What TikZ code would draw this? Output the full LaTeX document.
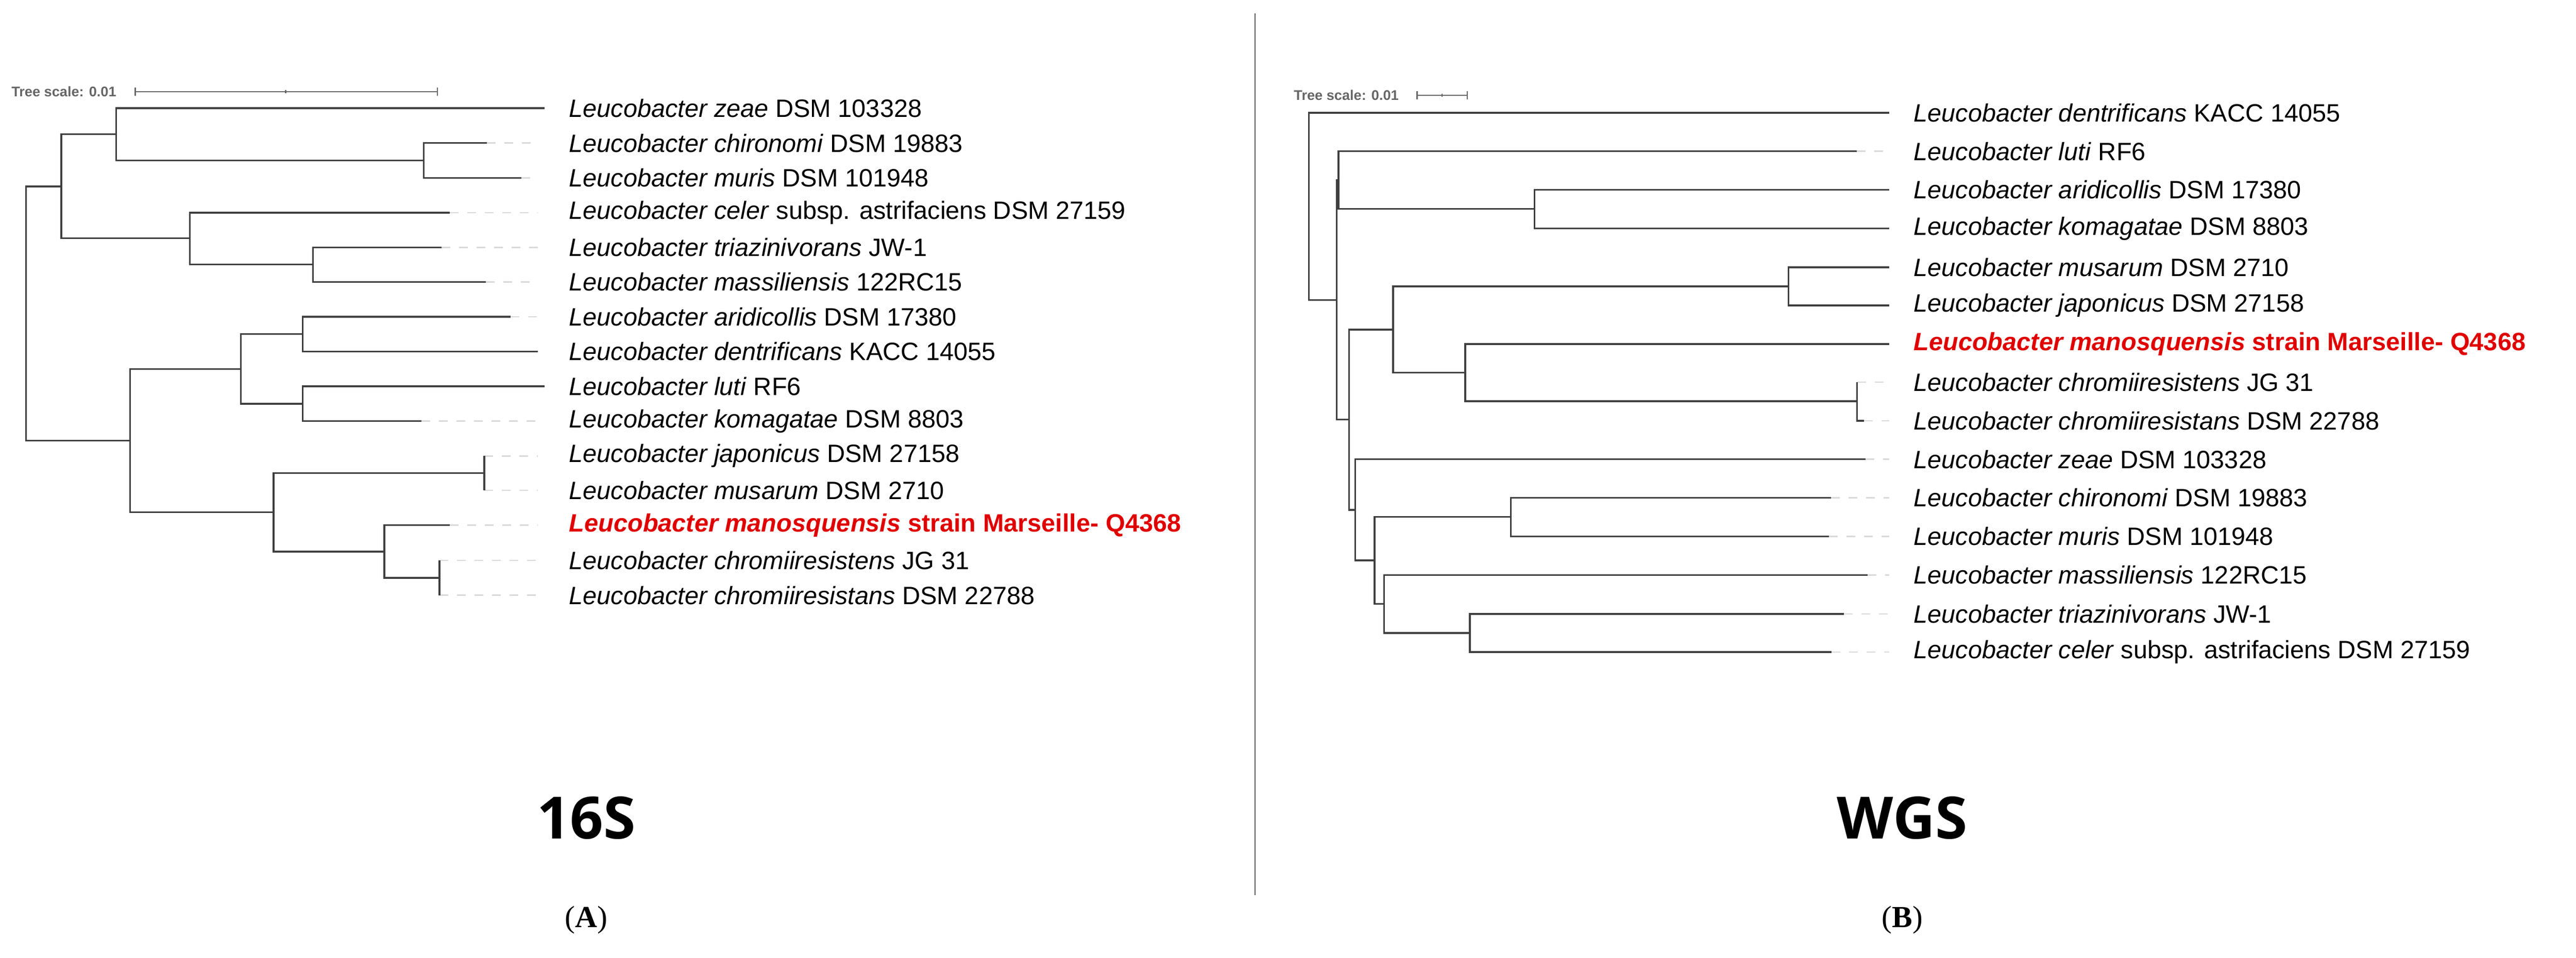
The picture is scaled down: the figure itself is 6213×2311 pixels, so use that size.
\documentclass[tikz,border=0pt]{standalone}
\usepackage{fontspec}
\setmainfont{Liberation Sans}
\newfontfamily\serifA{Liberation Serif}
\newfontfamily\opensans{Open Sans}
\begin{document}
\begin{tikzpicture}[x=0.01cm,y=-0.01cm]
\definecolor{tred}{HTML}{E00000}
\tikzset{br/.style={draw=black!75,line width=1.2pt},
 dsh/.style={draw=black!15,line width=0.9pt,dash pattern=on 6pt off 6pt},
 lbl/.style={anchor=west,inner sep=0pt,font=\fontsize{17.2}{20}\selectfont},
 redl/.style={lbl,text=tred,font=\fontsize{17.2}{20}\selectfont\bfseries},
 scl/.style={anchor=west,inner sep=0pt,text=black!60,font=\fontsize{9.6}{11}\selectfont\bfseries},
 big/.style={inner sep=0pt,font=\fontsize{40}{48}\selectfont\opensans\bfseries},
 sub/.style={inner sep=0pt,font=\fontsize{21}{25}\selectfont\serifA}}
\useasboundingbox (0,0) rectangle (6213,2311);
% divider
\draw[draw=black!65,line width=1pt] (3027,32) -- (3027,2160);
% ===== left tree =====
\node[scl] (sA) at (27,221) {Tree scale: 0.01};
\draw[draw=black!60,line width=0.9pt] (326,221) -- (1055,221) (326,211)--(326,231) (1055,211)--(1055,231) (689,217)--(689,225);
\foreach \n/\y/\t in {
 l1/261/{\textit{Leucobacter zeae} DSM 103328},
 l2/345/{\textit{Leucobacter chironomi} DSM 19883},
 l3/429/{\textit{Leucobacter muris} DSM 101948},
 l4/513/{\textit{Leucobacter celer} subsp. astrifaciens DSM 27159},
 l5/597/{\textit{Leucobacter triazinivorans} JW-1},
 l6/680/{\textit{Leucobacter massiliensis} 122RC15},
 l7/764/{\textit{Leucobacter aridicollis} DSM 17380},
 l8/848/{\textit{Leucobacter dentrificans} KACC 14055},
 l9/932/{\textit{Leucobacter luti} RF6},
 l10/1016/{\textit{Leucobacter komagatae} DSM 8803},
 l11/1100/{\textit{Leucobacter japonicus} DSM 27158},
 l12/1183/{\textit{Leucobacter musarum} DSM 2710},
 l14/1352/{\textit{Leucobacter chromiiresistens} JG 31},
 l15/1436/{\textit{Leucobacter chromiiresistans} DSM 22788}}
 {\node[lbl] (\n) at (1372,\y) {\t};}
\node[redl] (l13) at (1372,1267) {\textit{Leucobacter manosquensis} strain Marseille- Q4368};
% dashed extensions
\foreach \x/\y in {1174/345,1257/429,1085/513,1065/597,1172/680,1232/764,1017/1016,1168/1100,1168/1183,1085/1267,1060/1352,1060/1436}
 \draw[dsh] (\x,\y) -- (1297,\y);
% branches
\draw[br] (1174,345) -- (1022,345) -- (1022,429) -- (1257,429); % C
\draw[br] (1314,261) -- (280,261) -- (280,387) -- (1022,387); % B
\draw[br] (1065,597) -- (755,597) -- (755,680) -- (1172,680); % E
\draw[br] (1085,513) -- (458,513) -- (458,638) -- (755,638); % D
\draw[br] (280,324) -- (148,324) -- (148,575) -- (458,575); % A
\draw[br] (1232,764) -- (730,764) -- (730,848) -- (1297,848); % H
\draw[br] (1314,932) -- (730,932) -- (730,1016) -- (1017,1016); % I
\draw[br] (730,806) -- (581,806) -- (581,974) -- (730,974); % G
\draw[br] (1168,1100) -- (1168,1183); % K
\draw[br] (1060,1352) -- (1060,1436); % M
\draw[br] (1085,1267) -- (927,1267) -- (927,1394) -- (1060,1394); % L
\draw[br] (1168,1141) -- (660,1141) -- (660,1331) -- (927,1331); % J
\draw[br] (581,890) -- (314,890) -- (314,1236) -- (660,1236); % F
\draw[br] (148,450) -- (63,450) -- (63,1063) -- (314,1063); % root
% ===== right tree =====
\node[scl] (sB) at (3120,230) {Tree scale: 0.01};
\draw[draw=black!60,line width=0.9pt] (3418,230) -- (3539,230) (3418,220)--(3418,240) (3539,220)--(3539,240) (3478,226)--(3478,234);
\foreach \n/\y/\t in {
 r1/272/{\textit{Leucobacter dentrificans} KACC 14055},
 r2/365/{\textit{Leucobacter luti} RF6},
 r3/458/{\textit{Leucobacter aridicollis} DSM 17380},
 r4/551/{\textit{Leucobacter komagatae} DSM 8803},
 r5/645/{\textit{Leucobacter musarum} DSM 2710},
 r6/737/{\textit{Leucobacter japonicus} DSM 27158},
 r8/922/{\textit{Leucobacter chromiiresistens} JG 31},
 r9/1015/{\textit{Leucobacter chromiiresistans} DSM 22788},
 r10/1108/{\textit{Leucobacter zeae} DSM 103328},
 r11/1201/{\textit{Leucobacter chironomi} DSM 19883},
 r12/1294/{\textit{Leucobacter muris} DSM 101948},
 r13/1387/{\textit{Leucobacter massiliensis} 122RC15},
 r14/1481/{\textit{Leucobacter triazinivorans} JW-1},
 r15/1573/{\textit{Leucobacter celer} subsp. astrifaciens DSM 27159}}
 {\node[lbl] (\n) at (4615,\y) {\t};}
\node[redl] (r7) at (4615,830) {\textit{Leucobacter manosquensis} strain Marseille- Q4368};
\foreach \x/\y in {4478/365,4479/922,4496/1015,4500/1108,4416/1201,4411/1294,4504/1387,4447/1481,4418/1573}
 \draw[dsh] (\x,\y) -- (4557,\y);
\draw[br] (4557,458) -- (3701,458) -- (3701,551) -- (4557,551); % R
\draw[br] (4478,365) -- (3228,365) -- (3228,504) -- (3701,504); % Q
\draw[br] (4557,645) -- (4314,645) -- (4314,737) -- (4557,737); % T
\draw[br] (4479,922) -- (4479,1015) -- (4496,1015); % V
\draw[br] (4557,830) -- (3534,830) -- (3534,968) -- (4479,968); % U
\draw[br] (4314,691) -- (3360,691) -- (3360,899) -- (3534,899); % S
\draw[br] (4416,1201) -- (3644,1201) -- (3644,1294) -- (4411,1294); % Y
\draw[br] (4447,1481) -- (3545,1481) -- (3545,1573) -- (4418,1573); % AA
\draw[br] (4504,1387) -- (3338,1387) -- (3338,1527) -- (3545,1527); % Z
\draw[br] (3644,1247) -- (3315,1247) -- (3315,1457) -- (3338,1457); % X
\draw[br] (4500,1108) -- (3269,1108) -- (3269,1352) -- (3315,1352); % W
\draw[br] (3360,795) -- (3254,795) -- (3254,1230) -- (3269,1230); % L0
\draw[br] (3228,435) -- (3224,435) -- (3224,1012) -- (3254,1012); % P
\draw[br] (4557,272) -- (3157,272) -- (3157,724) -- (3224,724); % root
% titles
\node[big] (t16) at (1414,1973) {16S};
\node[big] (twgs) at (4588,1973) {WGS};
\node[sub] (ca) at (1414,2219) {(\textbf{A})};
\node[sub] (cb) at (4588,2219) {(\textbf{B})};
\end{tikzpicture}
\end{document}
